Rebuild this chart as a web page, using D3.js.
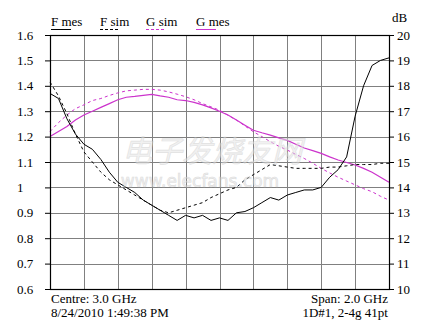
<!DOCTYPE html>
<html>
<head>
<meta charset="utf-8">
<script src="https://cdn.jsdelivr.net/npm/d3@7"></script>
<style>
  body { margin: 0; background: #fff; }
  svg text { font-family: "Liberation Serif", "DejaVu Serif", serif; font-size: 13px; fill: #000; }
</style>
</head>
<body>
<div id="chart"></div>
<script>
// frequency points, 2-4 GHz, 41 pts
var freqs = d3.range(41).map(function(i){ return 2 + i * 0.05; });

// left axis (F)
var fMes = [1.37,1.35,1.27,1.21,1.17,1.15,1.11,1.06,1.02,1.00,0.98,0.95,0.93,0.91,0.89,0.87,0.89,0.88,0.89,0.87,
            0.88,0.87,0.90,0.905,0.92,0.94,0.96,0.95,0.97,0.98,0.99,0.99,1.00,1.04,1.07,1.12,1.28,1.40,1.48,1.50,1.51];
var fSim = [1.415,1.36,1.29,1.21,1.14,1.10,1.06,1.03,1.01,0.99,0.97,0.95,0.93,0.91,0.90,0.91,0.92,0.93,0.94,0.96,
            0.975,0.99,1.00,1.03,1.05,1.07,1.09,1.085,1.08,1.075,1.075,1.075,1.075,1.08,1.08,1.085,1.09,1.09,1.09,1.095,1.095];
// right axis (G, dB)
var gMes = [16.0,16.2,16.4,16.65,16.85,17.0,17.15,17.3,17.45,17.55,17.58,17.62,17.66,17.6,17.55,17.45,17.42,17.35,17.25,17.13,
            17.0,16.85,16.65,16.45,16.25,16.15,16.06,15.95,15.85,15.7,15.55,15.45,15.34,15.2,15.08,14.98,14.88,14.75,14.6,14.4,14.2];
var gSim = [16.2,16.55,16.85,17.1,17.25,17.42,17.5,17.62,17.72,17.8,17.83,17.86,17.86,17.83,17.76,17.67,17.57,17.45,17.3,17.17,
            17.04,16.84,16.65,16.42,16.19,16.0,15.8,15.62,15.47,15.3,15.14,14.95,14.75,14.57,14.4,14.25,14.1,13.95,13.83,13.65,13.5];

var leftTicks = [0.6,0.7,0.8,0.9,1,1.1,1.2,1.3,1.4,1.5,1.6];
var rightTicks = [10,11,12,13,14,15,16,17,18,19,20];
var legendItems = ["F mes", "F sim", "G sim", "G mes"];

var magenta = "#cc33cc";
var serif = "'Liberation Serif', 'DejaVu Serif', serif";

var margin = {top: 35, right: 47, bottom: 36, left: 50},
    width = 436 - margin.left - margin.right,
    height = 325 - margin.top - margin.bottom;

var svgRoot = d3.select("#chart").append("svg")
    .attr("width", 436)
    .attr("height", 325);

var svg = svgRoot.append("g")
    .attr("transform", "translate(" + margin.left + "," + margin.top + ")");

var x = d3.scaleLinear().domain([2, 4]).range([0, width]);
var yL = d3.scaleLinear().domain([0.6, 1.6]).range([height, 0]);
var yR = d3.scaleLinear().domain([10, 20]).range([height, 0]);

// grid
svg.append("g")
    .selectAll("line.v")
    .data(d3.range(2.2, 3.9, 0.2))
    .enter().append("line")
    .attr("x1", function(d){ return Math.round(x(d)) + 0.5; })
    .attr("x2", function(d){ return Math.round(x(d)) + 0.5; })
    .attr("y1", 0).attr("y2", height)
    .style("stroke", "#808080");
svg.append("g")
    .selectAll("line.h")
    .data(leftTicks.slice(1, -1))
    .enter().append("line")
    .attr("y1", function(d){ return Math.round(yL(d)) + 0.5; })
    .attr("y2", function(d){ return Math.round(yL(d)) + 0.5; })
    .attr("x1", 0).attr("x2", width)
    .style("stroke", "#808080");

// watermark
var wm = svgRoot.append("g").style("opacity", 0.55);
wm.append("text")
    .attr("x", 212).attr("y", 162)
    .attr("text-anchor", "middle")
    .style("font-family", "Noto Sans CJK SC")
    .style("font-size", "30px")
    .style("font-style", "italic")
    .style("fill", "#e6e6e6")
    .style("stroke", "#c8c8c8")
    .style("stroke-width", 0.6)
    .text("电子发烧友网");
wm.append("text")
    .attr("x", 200).attr("y", 187)
    .attr("text-anchor", "middle")
    .style("font-family", "DejaVu Sans")
    .style("font-size", "17px")
    .style("fill", "#e6e6e6")
    .style("stroke", "#c0c0c0")
    .style("stroke-width", 0.6)
    .text("www.elecfans.com");

// axes
var axL = svg.append("g")
    .call(d3.axisLeft(yL).tickValues(leftTicks).tickSize(5).tickFormat(d3.format("")));
axL.attr("font-family", serif).attr("font-size", 13);
axL.select(".domain").remove();
axL.selectAll("text").attr("text-anchor", "start").attr("x", -33);

var axR = svg.append("g")
    .attr("transform", "translate(" + width + ",0)")
    .call(d3.axisRight(yR).tickValues(rightTicks).tickSize(5));
axR.attr("font-family", serif).attr("font-size", 13);
axR.select(".domain").remove();
axR.selectAll("text").attr("x", 8);

svg.append("text").attr("x", width + 3).attr("y", -13).text("dB");

// lines
var lineL = d3.line().x(function(d, i){ return x(freqs[i]); }).y(function(d){ return yL(d); });
var lineR = d3.line().x(function(d, i){ return x(freqs[i]); }).y(function(d){ return yR(d); });

svg.append("path").datum(gSim).attr("d", lineR)
    .style("fill", "none").style("stroke", magenta).style("stroke-width", 1).style("stroke-dasharray", "3,3");
svg.append("path").datum(gMes).attr("d", lineR)
    .style("fill", "none").style("stroke", magenta).style("stroke-width", 1.2);
svg.append("path").datum(fSim).attr("d", lineL)
    .style("fill", "none").style("stroke", "#000").style("stroke-width", 1).style("stroke-dasharray", "3,3");
svg.append("path").datum(fMes).attr("d", lineL)
    .style("fill", "none").style("stroke", "#000").style("stroke-width", 1);

// frame
svg.append("rect").attr("x", 0.5).attr("y", 0.5).attr("width", width).attr("height", height)
    .style("fill", "none").style("stroke", "#000").style("stroke-width", 1.2);

// legend
var legendX = [51, 100, 146, 196];
var legendStyle = [
  {color: "#000", dash: null},
  {color: "#000", dash: "3,2"},
  {color: magenta, dash: "3,2"},
  {color: magenta, dash: null}
];
var lg = svgRoot.append("g");
legendItems.forEach(function(name, i){
  lg.append("text").attr("x", legendX[i]).attr("y", 26).text(name);
  lg.append("line")
    .attr("x1", legendX[i]).attr("x2", legendX[i] + 20)
    .attr("y1", 29.5).attr("y2", 29.5)
    .style("stroke", legendStyle[i].color)
    .style("stroke-dasharray", legendStyle[i].dash);
});

// footer
svgRoot.append("text").attr("x", 51).attr("y", 303).text("Centre: 3.0 GHz");
svgRoot.append("text").attr("x", 51).attr("y", 317).text("8/24/2010 1:49:38 PM");
svgRoot.append("text").attr("x", 388).attr("y", 303).attr("text-anchor", "end").text("Span: 2.0 GHz");
svgRoot.append("text").attr("x", 388).attr("y", 317).attr("text-anchor", "end").text("1D#1, 2-4g 41pt");
</script>
</body>
</html>
